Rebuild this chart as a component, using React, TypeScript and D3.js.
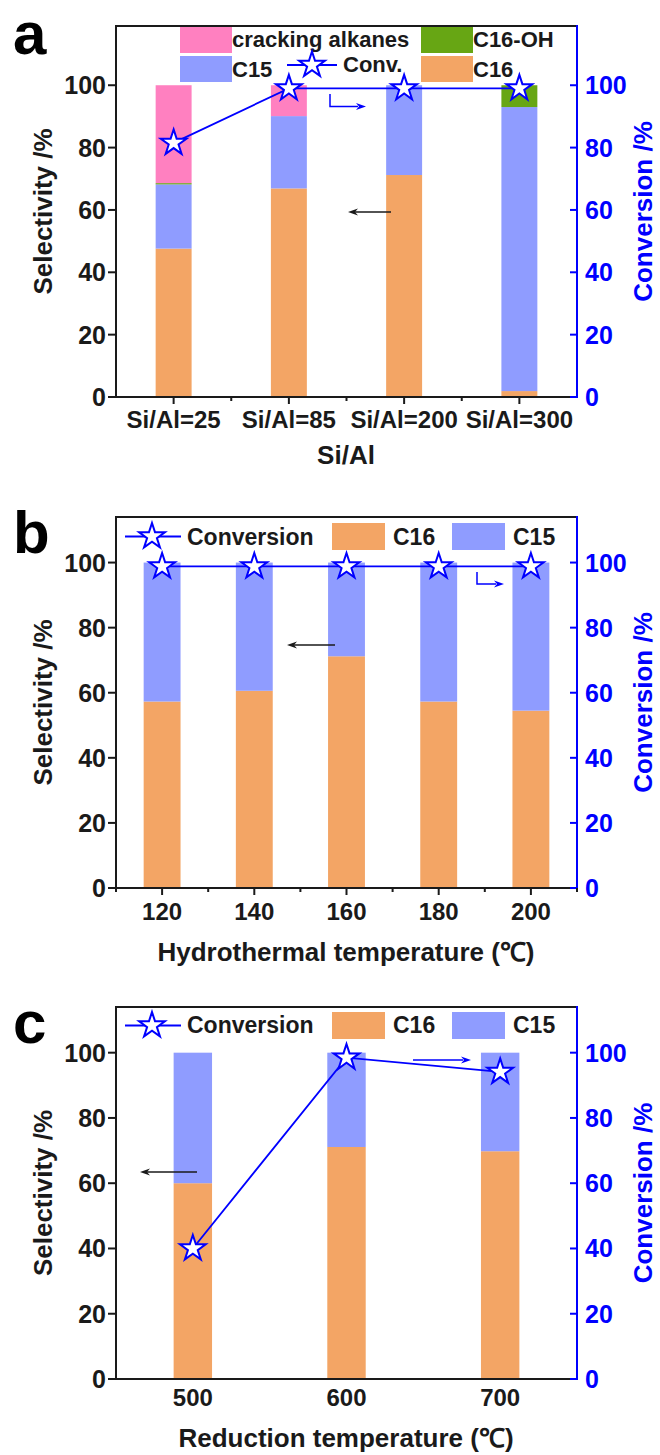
import React from "react";
import * as d3 from "d3";

// ---------- shared styling ----------
const FONT = "'Liberation Sans', Arial, Helvetica, sans-serif";
const BLUE = "#0000ff";
const INK = "#1a1a1a";
const C16_COLOR = "#f3a565";
const C15_COLOR = "#8f9cff";
const CRACK_COLOR = "#ff80c0";
const OH_COLOR = "#67a614";

// ---------- panel a: Si/Al ratio ----------
const siAlLabels = ["Si/Al=25", "Si/Al=85", "Si/Al=200", "Si/Al=300"];
const siAlC16 = [47.6, 66.9, 71.2, 1.9];
const siAlC15 = [20.6, 23.2, 28.8, 91.1];
const siAlC16OH = [0.4, 0, 0, 7.0];
const siAlCracking = [31.4, 9.9, 0, 0];
const siAlConv = [81.5, 99.0, 99.0, 99.0];

// ---------- panel b: hydrothermal temperature ----------
const hydroTemps = [120, 140, 160, 180, 200];
const hydroC16 = [57.3, 60.6, 71.2, 57.3, 54.5];
const hydroC15 = [42.7, 39.4, 28.8, 42.7, 45.5];
const hydroConv = [98.8, 98.8, 98.8, 98.8, 98.8];

// ---------- panel c: reduction temperature ----------
const redTemps = [500, 600, 700];
const redC16 = [60.0, 71.1, 69.8];
const redC15 = [40.0, 28.9, 30.2];
const redConv = [40.0, 98.5, 94.1];

const selTicks = [0, 20, 40, 60, 80, 100];

const LEFT = 116;
const RIGHT = 577;
const TICK_FONT = 25;

const starPath = d3.symbol().type(d3.symbolStar).size(205)() as string;

function Star({ x, y }: { x: number; y: number }) {
  return (
    <path
      d={starPath}
      transform={`translate(${x},${y})`}
      fill="#ffffff"
      stroke={BLUE}
      strokeWidth={2}
      strokeLinejoin="miter"
    />
  );
}

function Head({ x, y, dir, color }: { x: number; y: number; dir: "left" | "right"; color: string }) {
  const s = dir === "left" ? 1 : -1;
  const pts = [
    [x, y],
    [x + s * 10, y - 3.5],
    [x + s * 7, y],
    [x + s * 10, y + 3.5],
  ];
  return <polygon points={pts.map((p) => p.join(",")).join(" ")} fill={color} />;
}

type Tick = { pos: number; label: string };

function Frame(props: {
  top: number;
  bottom: number;
  y: d3.ScaleLinear<number, number>;
  xTicks: Tick[];
  minor: number[];
  showXTicks: boolean;
  xTickBaseline: number;
  xTitle: string;
  xTitleBaseline: number;
  letter: string;
  letterBaseline: number;
}) {
  const { top, bottom, y, xTicks, minor, showXTicks } = props;
  const mid = (top + bottom) / 2;
  return (
    <g fontFamily={FONT} fontWeight="bold">
      {/* frame: left, top, bottom in black; right conversion axis in blue */}
      <line x1={LEFT} x2={LEFT} y1={top} y2={bottom + 1} stroke={INK} strokeWidth={2} />
      <line x1={LEFT - 1} x2={RIGHT} y1={top} y2={top} stroke={INK} strokeWidth={2} />
      <line x1={LEFT - 1} x2={RIGHT} y1={bottom} y2={bottom} stroke={INK} strokeWidth={2} />
      <line x1={RIGHT} x2={RIGHT} y1={top - 1} y2={bottom + 1} stroke={BLUE} strokeWidth={2} />

      {selTicks.map((t) => (
        <g key={"l" + t}>
          <line x1={LEFT - 8} x2={LEFT} y1={y(t)} y2={y(t)} stroke={INK} strokeWidth={2} />
          <text x={106} y={y(t) + 9} fontSize={TICK_FONT} textAnchor="end" fill={INK}>
            {t}
          </text>
          <line x1={RIGHT - 7} x2={RIGHT} y1={y(t)} y2={y(t)} stroke={BLUE} strokeWidth={2} />
          <text x={585} y={y(t) + 9} fontSize={TICK_FONT} textAnchor="start" fill={BLUE}>
            {t}
          </text>
        </g>
      ))}

      {xTicks.map((t) => (
        <g key={"x" + t.label}>
          {showXTicks && (
            <line x1={t.pos} x2={t.pos} y1={bottom} y2={bottom + 7} stroke={INK} strokeWidth={2} />
          )}
          <text x={t.pos} y={props.xTickBaseline} fontSize={24} textAnchor="middle" fill={INK}>
            {t.label}
          </text>
        </g>
      ))}
      {minor.map((m) => (
        <line key={"m" + m} x1={m} x2={m} y1={bottom} y2={bottom + 4} stroke={INK} strokeWidth={2} />
      ))}

      <text
        transform={`translate(43,${mid}) rotate(-90)`}
        dy="0.36em"
        fontSize={26}
        textAnchor="middle"
        fill={INK}
      >
        Selectivity /%
      </text>
      <text
        transform={`translate(643,${mid}) rotate(-90)`}
        dy="0.36em"
        fontSize={26}
        textAnchor="middle"
        fill={BLUE}
      >
        Conversion /%
      </text>
      <text x={346} y={props.xTitleBaseline} fontSize={26} textAnchor="middle" fill={INK}>
        {props.xTitle}
      </text>
      <text x={13} y={props.letterBaseline} fontSize={60} fill="#000">
        {props.letter}
      </text>
    </g>
  );
}

function LegendRect({ x, y, color }: { x: number; y: number; color: string }) {
  return <rect x={x} y={y} width={52} height={26} fill={color} />;
}

function PanelA() {
  const top = 26;
  const bottom = 397;
  const x = d3.scaleBand<string>().domain(siAlLabels).range([LEFT, RIGHT]);
  const y = d3.scaleLinear().domain([0, 119]).range([bottom, top]);
  const barW = x.bandwidth() * 0.312;
  const rows = siAlLabels.map((k, i) => ({
    key: k,
    c16: siAlC16[i],
    c15: siAlC15[i],
    oh: siAlC16OH[i],
    crack: siAlCracking[i],
  }));
  const keys = ["c16", "c15", "oh", "crack"];
  const colors: Record<string, string> = { c16: C16_COLOR, c15: C15_COLOR, oh: OH_COLOR, crack: CRACK_COLOR };
  const stacked = d3.stack<any>().keys(keys)(rows);
  const cx = (k: string) => (x(k) as number) + x.bandwidth() / 2;
  const line = d3
    .line<number>()
    .x((_, i) => cx(siAlLabels[i]))
    .y((d) => y(d));
  const minor = siAlLabels.slice(1).map((k) => x(k) as number);
  return (
    <g>
      {stacked.map((s) =>
        s.map((d, i) =>
          d[1] - d[0] > 0 ? (
            <rect
              key={s.key + i}
              x={cx(siAlLabels[i]) - barW / 2}
              width={barW}
              y={y(d[1])}
              height={y(d[0]) - y(d[1])}
              fill={colors[s.key]}
            />
          ) : null
        )
      )}
      <Frame
        top={top}
        bottom={bottom}
        y={y}
        xTicks={siAlLabels.map((k) => ({ pos: cx(k), label: k }))}
        minor={minor}
        showXTicks={true}
        xTickBaseline={428}
        xTitle="Si/Al"
        xTitleBaseline={464}
        letter="a"
        letterBaseline={54}
      />
      <path d={line(siAlConv) as string} fill="none" stroke={BLUE} strokeWidth={1.8} />
      {siAlConv.map((v, i) => (
        <Star key={i} x={cx(siAlLabels[i])} y={y(v)} />
      ))}
      {/* arrows pointing at the matching axis */}
      <line x1={391} x2={352} y1={212} y2={212} stroke={INK} strokeWidth={1.5} />
      <Head x={348} y={212} dir="left" color={INK} />
      <path d="M330,94 V106.5 H358" fill="none" stroke={BLUE} strokeWidth={1.5} />
      <Head x={366} y={106.5} dir="right" color={BLUE} />
      {/* legend */}
      <g fontFamily={FONT} fontWeight="bold" fontSize={22} fill={INK}>
        <LegendRect x={180} y={27} color={CRACK_COLOR} />
        <text x={232} y={47}>cracking alkanes</text>
        <LegendRect x={180} y={56} color={C15_COLOR} />
        <text x={232} y={77}>C15</text>
        <line x1={287} x2={337} y1={65} y2={65} stroke={BLUE} strokeWidth={1.8} />
        <Star x={312} y={65} />
        <text x={343} y={72}>Conv.</text>
        <LegendRect x={421} y={27} color={OH_COLOR} />
        <text x={473} y={47}>C16-OH</text>
        <LegendRect x={421} y={56} color={C16_COLOR} />
        <text x={473} y={77}>C16</text>
      </g>
    </g>
  );
}

function TempPanel(props: {
  top: number;
  bottom: number;
  domain: [number, number];
  temps: number[];
  c16: number[];
  c15: number[];
  conv: number[];
  barUnits: number;
  minor: number[];
  showXTicks: boolean;
  xTickBaseline: number;
  xTitle: string;
  xTitleBaseline: number;
  letter: string;
  letterBaseline: number;
  legendY: number;
  legendBaseline: number;
  children?: React.ReactNode;
}) {
  const { top, bottom, temps } = props;
  const x = d3.scaleLinear().domain(props.domain).range([LEFT, RIGHT]);
  const y = d3.scaleLinear().domain([0, 114]).range([bottom, top]);
  const barW = x(props.domain[0] + props.barUnits) - x(props.domain[0]);
  const rows = temps.map((t, i) => ({ t, c16: props.c16[i], c15: props.c15[i] }));
  const stacked = d3.stack<any>().keys(["c16", "c15"])(rows);
  const colors: Record<string, string> = { c16: C16_COLOR, c15: C15_COLOR };
  const line = d3
    .line<number>()
    .x((_, i) => x(temps[i]))
    .y((d) => y(d));
  const ly = props.legendY;
  return (
    <g>
      {stacked.map((s) =>
        s.map((d, i) => (
          <rect
            key={s.key + i}
            x={x(temps[i]) - barW / 2}
            width={barW}
            y={y(d[1])}
            height={y(d[0]) - y(d[1])}
            fill={colors[s.key]}
          />
        ))
      )}
      <Frame
        top={top}
        bottom={bottom}
        y={y}
        xTicks={temps.map((t) => ({ pos: x(t), label: String(t) }))}
        minor={props.minor.map((m) => x(m))}
        showXTicks={props.showXTicks}
        xTickBaseline={props.xTickBaseline}
        xTitle={props.xTitle}
        xTitleBaseline={props.xTitleBaseline}
        letter={props.letter}
        letterBaseline={props.letterBaseline}
      />
      <path d={line(props.conv) as string} fill="none" stroke={BLUE} strokeWidth={1.8} />
      {props.conv.map((v, i) => (
        <Star key={i} x={x(temps[i])} y={y(v)} />
      ))}
      {props.children}
      <g fontFamily={FONT} fontWeight="bold" fontSize={23} fill={INK}>
        <line x1={125} x2={181} y1={ly + 13.5} y2={ly + 13.5} stroke={BLUE} strokeWidth={1.8} />
        <Star x={152} y={ly + 13.5} />
        <text x={187} y={props.legendBaseline}>Conversion</text>
        <rect x={332} y={ly} width={53} height={27} fill={C16_COLOR} />
        <text x={393} y={props.legendBaseline}>C16</text>
        <rect x={452} y={ly} width={53} height={27} fill={C15_COLOR} />
        <text x={513} y={props.legendBaseline}>C15</text>
      </g>
    </g>
  );
}

export default function App() {
  return (
    <svg
      width={660}
      height={1455}
      viewBox="0 0 660 1455"
      style={{ position: "absolute", left: 0, top: 0, background: "#ffffff" }}
    >
      <rect width={660} height={1455} fill="#ffffff" />
      <PanelA />
      <TempPanel
        top={517}
        bottom={888}
        domain={[110, 210]}
        temps={hydroTemps}
        c16={hydroC16}
        c15={hydroC15}
        conv={hydroConv}
        barUnits={8}
        minor={[110, 130, 150, 170, 190, 210]}
        showXTicks={true}
        xTickBaseline={920}
        xTitle="Hydrothermal temperature (℃)"
        xTitleBaseline={961}
        letter="b"
        letterBaseline={553}
        legendY={523}
        legendBaseline={545}
      >
        <line x1={335} x2={291} y1={645} y2={645} stroke={INK} strokeWidth={1.5} />
        <Head x={287} y={645} dir="left" color={INK} />
        <path d="M477,572 V584 H496" fill="none" stroke={BLUE} strokeWidth={1.5} />
        <Head x={504} y={584} dir="right" color={BLUE} />
      </TempPanel>
      <TempPanel
        top={1007}
        bottom={1379}
        domain={[450, 750]}
        temps={redTemps}
        c16={redC16}
        c15={redC15}
        conv={redConv}
        barUnits={25}
        minor={[]}
        showXTicks={false}
        xTickBaseline={1406}
        xTitle="Reduction temperature (℃)"
        xTitleBaseline={1447}
        letter="c"
        letterBaseline={1043}
        legendY={1012}
        legendBaseline={1033}
      >
        <line x1={197} x2={144} y1={1172} y2={1172} stroke={INK} strokeWidth={1.5} />
        <Head x={140} y={1172} dir="left" color={INK} />
        <line x1={413} x2={463} y1={1060} y2={1060} stroke={BLUE} strokeWidth={1.5} />
        <Head x={471} y={1060} dir="right" color={BLUE} />
      </TempPanel>
    </svg>
  );
}
